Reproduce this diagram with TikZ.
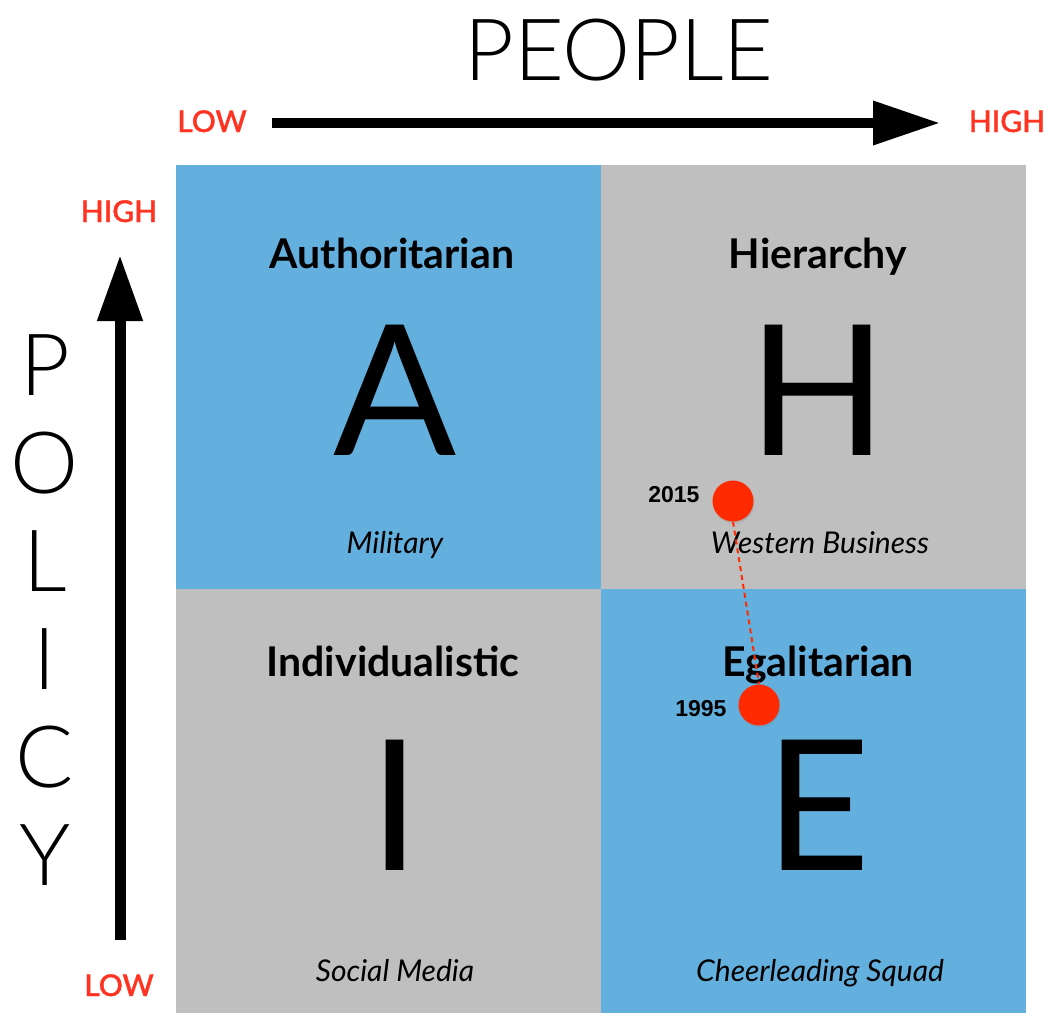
\documentclass[tikz,border=0pt]{standalone}
\usepackage{fontspec}
\setmainfont{Lato}
\newfontfamily\helv{Liberation Sans}
\newfontfamily\latolight{Lato Light}
\newfontfamily\latomedium[FakeBold=1.2]{Lato Medium}
\usetikzlibrary{positioning}
\usetikzlibrary{calc}
\usetikzlibrary{arrows.meta,shadows}

\definecolor{quadblue}{HTML}{63B0DE}
\definecolor{quadgray}{HTML}{BFBFBF}
\definecolor{scalered}{HTML}{FF3322}
\definecolor{dotred}{HTML}{FF2A00}

\tikzset{
  axisname/.style={font=\fontsize{86}{86}\selectfont\latolight, anchor=base},
  scalelabel/.style={text=scalered, font=\fontsize{30}{30}\selectfont\latomedium, anchor=base},
  quadtitle/.style={font=\fontsize{41}{41}\selectfont\bfseries, anchor=base},
  bigletter/.style={font=\fontsize{182}{182}\selectfont, anchor=base},
  sample/.style={font=\fontsize{30}{30}\selectfont\itshape, anchor=base},
  dot/.style={circle, fill=dotred, minimum size=41pt, inner sep=0pt,
    drop shadow={opacity=0.25, shadow xshift=1pt, shadow yshift=-2pt}},
  year/.style={font=\fontsize{23}{23}\selectfont\helv\bfseries, anchor=base east}
}

\begin{document}
\begin{tikzpicture}[x=1pt,y=-1pt]
\useasboundingbox (0,0) rectangle (1048,1015);

% quadrants
\fill[quadblue] (176,165) rectangle (601,589);
\fill[quadgray] (601,165) rectangle (1026,589);
\fill[quadgray] (176,589) rectangle (601,1013);
\fill[quadblue] (601,589) rectangle (1026,1013);

% people axis
\node (people) [axisname] at (619,80) {PEOPLE};
\node (peoplelow) [scalelabel] at (212,132) {LOW};
\node (peoplehigh) [scalelabel] at (1007,132) {HIGH};
\coordinate (pstart) at (272,123);
\coordinate (pend) at (940,123);
\draw[line width=10pt, -{Triangle[length=67pt,width=42pt]}] (pstart) -- (pend);

% policy axis
\foreach \ch [count=\i from 0] in {P,O,L,I,C,Y}
\node (policy\i) [axisname] at (45,395+98*\i) {\ch};
\node (policyhigh) [scalelabel] at (119,222) {HIGH};
\node (policylow) [scalelabel] at (119,996) {LOW};
\coordinate (qstart) at (120,940);
\coordinate (qend) at (120,255);
\draw[line width=11pt, -{Triangle[length=66pt,width=43pt]}] (qstart) -- (qend);

% quadrant texts
\node (authtitle) [quadtitle] at (392,268) {Authoritarian};
\node (hiertitle) [quadtitle] at (818,268) {Hierarchy};
\node (indtitle) [quadtitle] at (393,676) {Individualistic};
\node (egaltitle) [quadtitle] at (818,676) {Egalitarian};

\node (bigA) [bigletter] at (395,455) {A};
\node (bigH) [bigletter] at (818,455) {H};
\node (bigI) [bigletter] at (395,870) {I};
\node (bigE) [bigletter] at (818,870) {E};

\node (authsample) [sample] at (395,553) {Military};
\node (hiersample) [sample] at (820,553) {Western Business};
\node (indsample) [sample] at (395,981) {Social Media};
\node (egalsample) [sample] at (820,981) {Cheerleading Squad};

% timeline
\node (dotlate) [dot] at (733,501) {};
\node (dotearly) [dot] at (759,705) {};
\draw[dotred, line width=2pt, dash pattern=on 5pt off 4pt] (dotlate.south) -- (dotearly.north);
\node (yearlate) [year] at (703,502) {2015};
\node (yearearly) [year] at (730,716) {1995};
\end{tikzpicture}
\end{document}
